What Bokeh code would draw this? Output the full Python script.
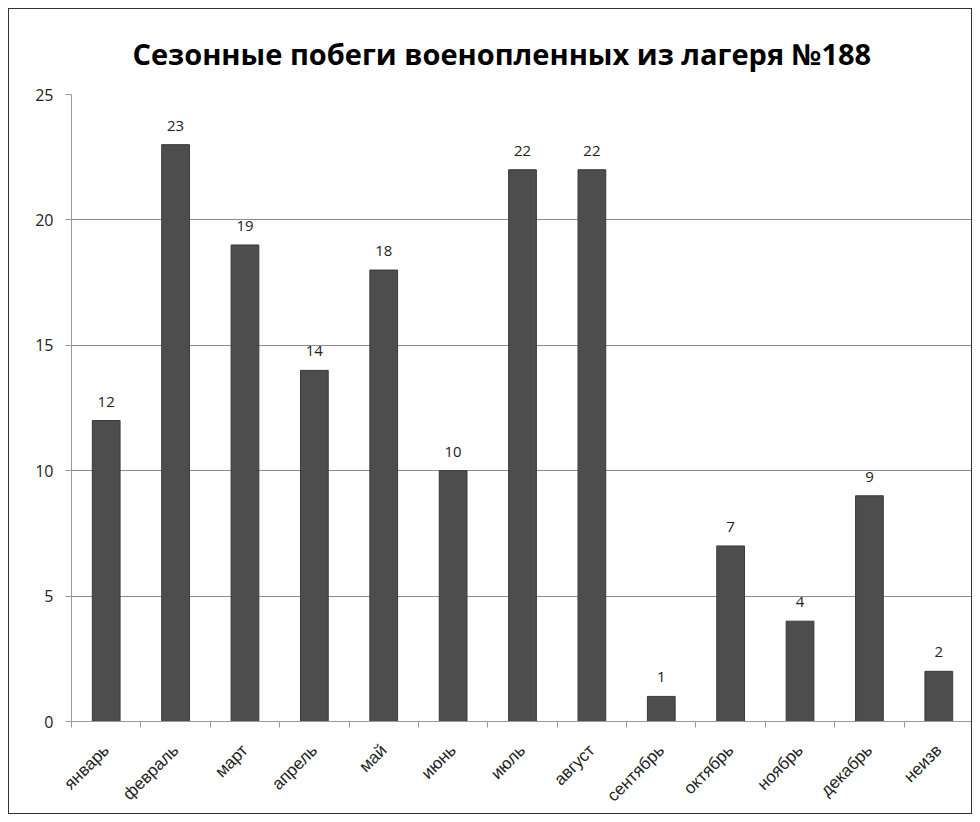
import math
from bokeh.plotting import figure
from bokeh.models import FixedTicker, ColumnDataSource, Title
from bokeh.core.properties import value
from bokeh.embed import file_html
from bokeh.resources import INLINE

months = ["январь", "февраль", "март", "апрель", "май", "июнь", "июль",
          "август", "сентябрь", "октябрь", "ноябрь", "декабрь", "неизв"]
escapes = [12, 23, 19, 14, 18, 10, 22, 22, 1, 7, 4, 9, 2]
y_ticks = [0, 5, 10, 15, 20, 25]
title_text = "Сезонные побеги военопленных из лагеря №188"

xs = list(range(1, len(months) + 1))
src = ColumnDataSource(dict(x=xs, top=escapes, lbl=[str(v) for v in escapes]))

p = figure(width=964, height=806, output_backend="svg", toolbar_location=None,
           x_range=(0.5, len(months) + 0.5), y_range=(0, 25),
           min_border_left=62, min_border_right=0, min_border_top=85, min_border_bottom=94,
           background_fill_color="white", border_fill_color="white")
p.styles = {"border": "1px solid #333", "margin": "8px 0 0 8px"}

t = Title(text=title_text, align="left", offset=61, text_font="Open Sans",
          text_font_size="29px", text_font_style="bold", text_color="#000000", standoff=44)
p.add_layout(t, "above")

p.vbar(x="x", top="top", width=0.4, source=src, fill_color="#4d4d4d",
       line_color="#3a3a3a", line_width=1)
p.text(x="x", y="top", text="lbl", source=src, text_align="center",
       text_baseline="bottom", y_offset=-14, text_font=value("Open Sans"),
       text_font_size="15px", text_color="#222222")

p.outline_line_color = None
p.xgrid.grid_line_color = None
p.ygrid.grid_line_color = "#8c8c8c"
p.ygrid.grid_line_width = 1

p.xaxis.ticker = FixedTicker(ticks=xs, minor_ticks=[i + 0.5 for i in range(0, len(months) + 1)])
p.xaxis.major_label_overrides = {i + 1: m for i, m in enumerate(months)}
p.xaxis.major_label_orientation = math.pi / 4
p.xaxis.major_tick_line_color = None
p.xaxis.minor_tick_line_color = "#9a9a9a"
p.xaxis.minor_tick_out = 6
p.xaxis.minor_tick_in = 0
p.xaxis.axis_line_color = "#9a9a9a"
p.xaxis.major_label_text_font = "Liberation Sans"
p.xaxis.major_label_text_font_size = "17px"
p.xaxis.major_label_text_color = "#222222"
p.xaxis.major_label_standoff = 20

p.yaxis.ticker = FixedTicker(ticks=y_ticks)
p.yaxis.axis_line_color = "#9a9a9a"
p.yaxis.major_tick_line_color = "#9a9a9a"
p.yaxis.major_tick_out = 6
p.yaxis.major_tick_in = 0
p.yaxis.minor_tick_line_color = None
p.yaxis.major_label_text_font = "Open Sans"
p.yaxis.major_label_text_font_size = "16px"
p.yaxis.major_label_text_color = "#222222"
p.yaxis.major_label_standoff = 12

open("out.html", "w").write(file_html(p, INLINE))
